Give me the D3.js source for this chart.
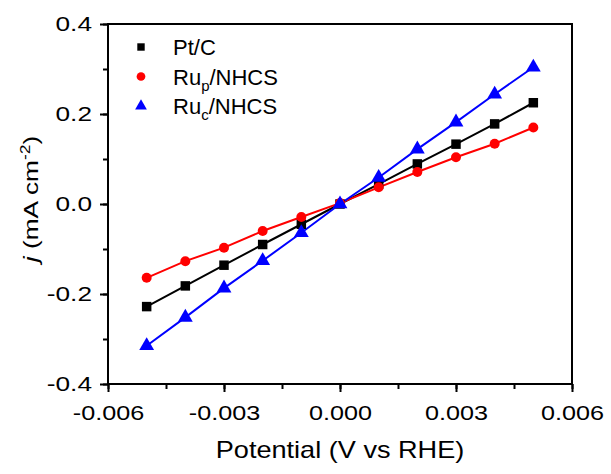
<!DOCTYPE html>
<html>
<head>
<meta charset="utf-8">
<script src="https://cdn.jsdelivr.net/npm/d3@7"></script>
<style>
  body { margin: 0; background: #fff; }
  svg { font-family: Arial, "Liberation Sans", sans-serif; }
</style>
</head>
<body>
<svg id="chart" width="611" height="474"></svg>
<script>
// potential (V vs RHE)
var potential = [-0.005, -0.004, -0.003, -0.002, -0.001, 0, 0.001, 0.002, 0.003, 0.004, 0.005];
var ptC = [-0.228, -0.182, -0.136, -0.090, -0.045, 0, 0.044, 0.089, 0.133, 0.178, 0.225];
var ruP = [-0.164, -0.127, -0.097, -0.060, -0.029, 0.002, 0.037, 0.071, 0.104, 0.134, 0.170];
var ruC = [-0.315, -0.252, -0.187, -0.126, -0.064, 0, 0.059, 0.122, 0.182, 0.244, 0.304];
var xTicks = [-0.006, -0.003, 0, 0.003, 0.006];
var yTicks = [-0.4, -0.2, 0, 0.2, 0.4];

var series = [
  { name: 'Pt/C', sub: null, values: ptC, color: '#000000', symbol: d3.symbolSquare, size: 90, legSize: 55 },
  { name: 'Ru', sub: 'p', values: ruP, color: '#ff0000', symbol: d3.symbolCircle, size: 78, legSize: 60 },
  { name: 'Ru', sub: 'c', values: ruC, color: '#0000ff', symbol: d3.symbolTriangle, size: 95, legSize: 60 }
];

var svg = d3.select('#chart');
var m = { left: 108, right: 572, top: 24, bottom: 384 };

var x = d3.scaleLinear().domain([-0.006, 0.006]).range([m.left, m.right]);
var y = d3.scaleLinear().domain([-0.4, 0.4]).range([m.bottom, m.top]);

var fmt = function (p) {
  return function (d) { return d3.format(p)(d).replace('−', '-'); };
};

// minor ticks
var minorX = d3.range(-0.006, 0.0061, 0.0015);
var minorY = d3.range(-0.4, 0.401, 0.1);

svg.append('g')
  .attr('transform', 'translate(0,' + m.bottom + ')')
  .call(d3.axisBottom(x).tickValues(minorX).tickSize(5).tickFormat(''))
  .call(function (g) { g.select('.domain').remove(); g.selectAll('line').attr('stroke-width', 2); });

svg.append('g')
  .attr('transform', 'translate(' + m.left + ',0)')
  .call(d3.axisLeft(y).tickValues(minorY).tickSize(5).tickFormat(''))
  .call(function (g) { g.select('.domain').remove(); g.selectAll('line').attr('stroke-width', 2); });

// major axes
var xAxis = svg.append('g')
  .attr('transform', 'translate(0,' + m.bottom + ')')
  .call(d3.axisBottom(x).tickValues(xTicks).tickSize(8).tickPadding(13).tickFormat(fmt('.3f')));

var yAxis = svg.append('g')
  .attr('transform', 'translate(' + m.left + ',0)')
  .call(d3.axisLeft(y).tickValues(yTicks).tickSize(8).tickFormat(fmt('.1f')));

[xAxis, yAxis].forEach(function (g) {
  g.select('.domain').remove();
  g.selectAll('line').attr('stroke', '#000').attr('stroke-width', 2);
  g.selectAll('text').attr('font-size', 21).attr('fill', '#000');
});
// labels in the reference are drawn a bit wider than Arial
xAxis.selectAll('text').attr('transform', 'scale(1.2,1)');
yAxis.selectAll('text').attr('transform', 'scale(1.25,1)').attr('x', -16 / 1.25);

// frame
svg.append('rect')
  .attr('x', m.left).attr('y', m.top)
  .attr('width', m.right - m.left).attr('height', m.bottom - m.top)
  .attr('fill', 'none').attr('stroke', '#000').attr('stroke-width', 2);

// lines + markers
var line = d3.line()
  .x(function (d, i) { return x(potential[i]); })
  .y(function (d) { return y(d); });

series.forEach(function (s) {
  svg.append('path')
    .datum(s.values)
    .attr('d', line)
    .attr('fill', 'none')
    .attr('stroke', s.color)
    .attr('stroke-width', 2);
});

series.forEach(function (s) {
  svg.selectAll(null)
    .data(s.values)
    .enter()
      .append('path')
      .attr('d', d3.symbol().type(s.symbol).size(s.size))
      .attr('transform', function (d, i) {
        return 'translate(' + x(potential[i]) + ',' + y(d) + ')';
      })
      .attr('fill', s.color);
});

// legend
var leg = svg.append('g').attr('transform', 'translate(141,47)');
series.forEach(function (s, i) {
  var row = leg.append('g').attr('transform', 'translate(0,' + (i * 29.5) + ')');
  row.append('path')
    .attr('d', d3.symbol().type(s.symbol).size(s.legSize))
    .attr('fill', s.color);
  var t = row.append('text')
    .attr('x', 32).attr('y', 8)
    .attr('font-size', 22).attr('fill', '#000');
  t.append('tspan').text(s.name);
  if (s.sub) {
    t.append('tspan').attr('font-size', 15).attr('dy', 6).text(s.sub);
    t.append('tspan').attr('dy', -6).text('/NHCS');
  }
});

// axis titles
svg.append('text')
  .attr('transform', 'translate(' + ((m.left + m.right) / 2) + ',458) scale(1.13,1)')
  .attr('text-anchor', 'middle')
  .attr('font-size', 24)
  .text('Potential (V vs RHE)');

var yt = svg.append('text')
  .attr('transform', 'translate(38,199) rotate(-90) scale(1.25,1)')
  .attr('text-anchor', 'middle')
  .attr('font-size', 21);
yt.append('tspan').attr('font-style', 'italic').text('j');
yt.append('tspan').text(' (mA cm');
yt.append('tspan').attr('font-size', 14).attr('dy', -8).text('-2');
yt.append('tspan').attr('dy', 8).text(')');
</script>
</body>
</html>
